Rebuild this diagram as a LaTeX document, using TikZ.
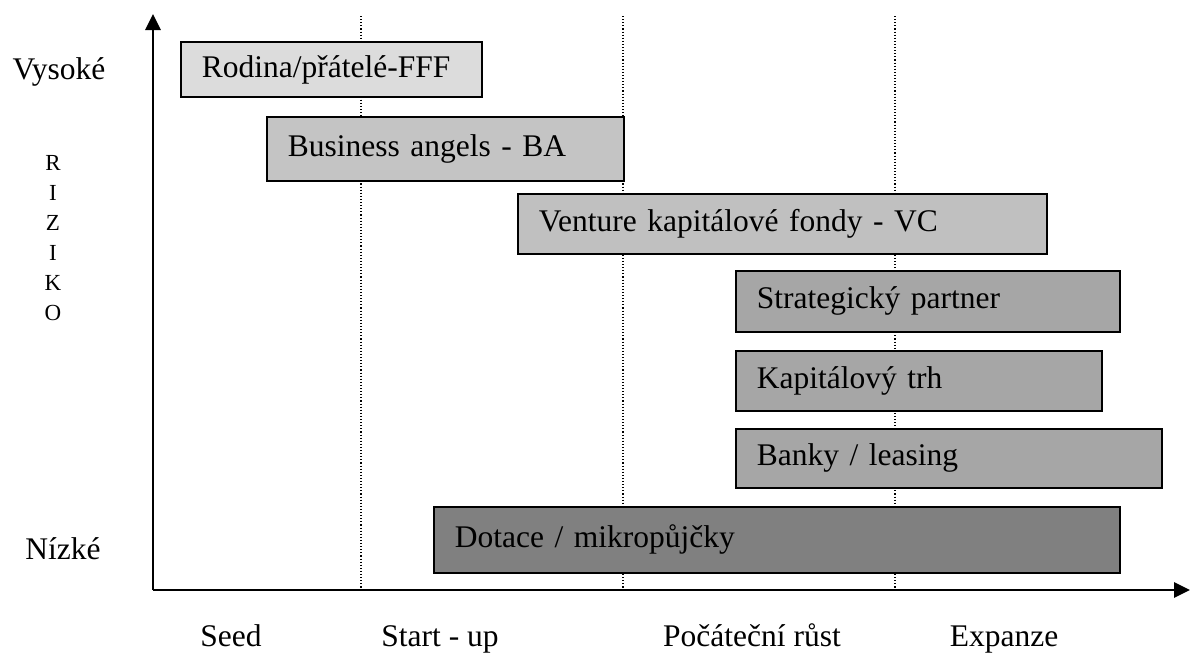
\documentclass[tikz,border=0pt]{standalone}
\usepackage{fontspec}
\setmainfont{Liberation Serif}
\usetikzlibrary{arrows.meta}
\begin{document}
\begin{tikzpicture}[x=1pt,y=-1pt,
  bar/.style={draw=black, line width=1.8pt, anchor=north west, inner xsep=21pt, inner ysep=0pt,
    align=left, font=\fontsize{31.5}{36}\selectfont},
  axis/.style={line width=2.8pt, -{Triangle[length=16pt,width=15pt]}},
  guide/.style={dotted, line width=1.1pt},
  lbl/.style={font=\fontsize{31.5}{36}\selectfont, anchor=base, inner sep=0pt},
  rlet/.style={font=\fontsize{23}{28}\selectfont, anchor=base, inner sep=0pt}]
\useasboundingbox (0,0) rectangle (1190,657);
% axes
\coordinate (O) at (153,590);
\coordinate (ytop) at (153,14);
\coordinate (xend) at (1190,590);
\draw[axis] (O) -- (ytop);
\draw[axis] (O) -- (xend);
% dotted guides
\foreach \x/\n in {361/a,623/b,895/c}{
  \coordinate (g\n t) at (\x,16);
  \coordinate (g\n b) at (\x,589);
  \draw[guide] (g\n t) -- (g\n b);
}
% bars
\node[bar, fill={rgb,255:red,220;green,220;blue,220}, text width=259pt, minimum height=55pt] (fff) at (180,41) {Rodina/přátelé-FFF};
\node[bar, fill={rgb,255:red,196;green,196;blue,196}, text width=315pt, minimum height=64pt] (ba) at (266,116) {Business angels - BA};
\node[bar, fill={rgb,255:red,192;green,192;blue,192}, text width=487pt, minimum height=60pt] (vc) at (517,193) {Venture kapitálové fondy - VC};
\node[bar, fill={rgb,255:red,166;green,166;blue,166}, text width=342pt, minimum height=61pt] (sp) at (735,270) {Strategický partner};
\node[bar, fill={rgb,255:red,166;green,166;blue,166}, text width=324pt, minimum height=60pt] (kt) at (735,350) {Kapitálový trh};
\node[bar, fill={rgb,255:red,166;green,166;blue,166}, text width=384pt, minimum height=59pt] (bl) at (735,428) {Banky / leasing};
\node[bar, fill={rgb,255:red,128;green,128;blue,128}, text width=644pt, minimum height=66pt] (dm) at (433,506) {Dotace / mikropůjčky};
% y labels
\node[lbl] (hi) at (59,79) {Vysoké};
\node[lbl] (lo) at (63,559) {Nízké};
\foreach \l [count=\i] in {R,I,Z,I,K,O}{
  \node[rlet] (r\i) at (53,{170+30*(\i-1)}) {\l};
}
% x labels
\node[lbl] (s1) at (231,646) {Seed};
\node[lbl] (s2) at (440,646) {Start - up};
\node[lbl] (s3) at (752,646) {Počáteční růst};
\node[lbl] (s4) at (1004,646) {Expanze};
\end{tikzpicture}
\end{document}
